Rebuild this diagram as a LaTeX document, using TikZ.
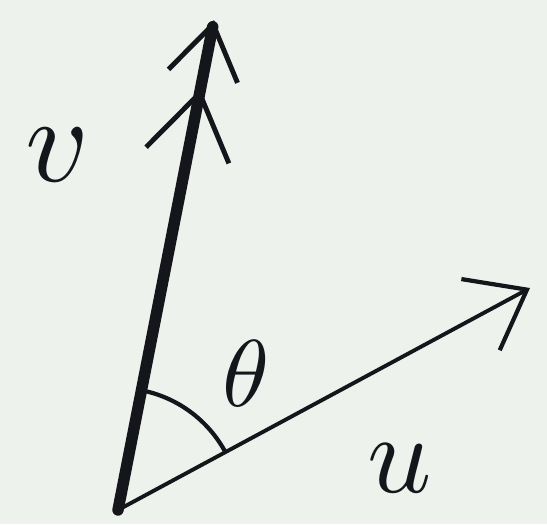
\documentclass[tikz,border=0pt]{standalone}
\usepackage{graphicx}
\usetikzlibrary{arrows.meta,calc}
\definecolor{paper}{HTML}{EEF2EC}
\definecolor{ink}{HTML}{15151C}
\tikzset{
  vecthick/.style={draw=ink,line width=6.5pt,line cap=round},
  vecthin/.style={draw=ink,line width=2.2pt,line cap=round},
  tipopen/.style={-{Straight Barb[length=30pt,width=46pt,line width=2.4pt]}},
  tipdouble/.style={-{Straight Barb[length=36pt,width=48pt,line width=2.8pt,sep=6pt]Straight Barb[length=30pt,width=40pt,line width=2.8pt]}},
  anglearc/.style={draw=ink,line width=2.4pt},
  hand/.style={text=ink,inner sep=0pt}
}
\begin{document}
\begin{tikzpicture}[x=0.02cm,y=-0.02cm]
  \fill[paper] (0,0) rectangle (547,524);
  \useasboundingbox (0,0) rectangle (547,524);

  \coordinate (O) at (118,510);
  \coordinate (vtip) at (214,20);
  \coordinate (utip) at (530,288);

  % the two vectors
  \draw[vecthick,tipdouble] (O) -- (vtip);
  \draw[vecthin,tipopen] (O) -- (utip);

  % angle between them
  \draw[anglearc] ($(O)+(-28.5:122)$) arc[start angle=-28.5,end angle=-79,radius=122];

  \node[hand] (vlabel) at (58,155) {\scalebox{7}{$v$}};
  \node[hand] (thlabel) at (246,374) {\scalebox{5.4}{$\theta$}};
  \node[hand] (ulabel) at (400,468) {\scalebox{6.4}{$u$}};
\end{tikzpicture}
\end{document}
